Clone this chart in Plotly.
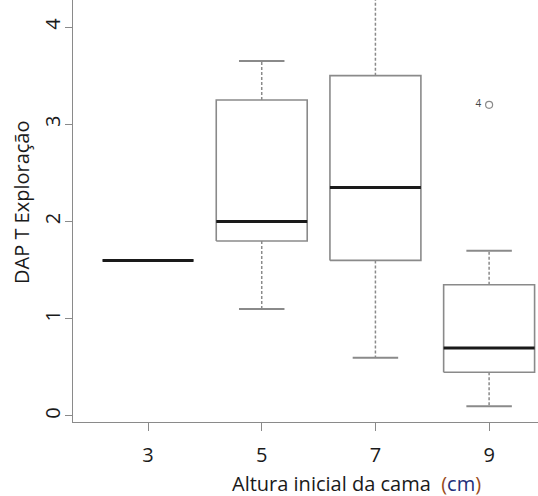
import plotly.graph_objects as go

# ---- data ----
categories = ["3", "5", "7", "9"]
lower_whisker = [1.6, 1.1, 0.6, 0.1]
q1 = [1.6, 1.8, 1.6, 0.45]
median = [1.6, 2.0, 2.35, 0.7]
q3 = [1.6, 3.25, 3.5, 1.35]
upper_whisker = [1.6, 3.65, 4.35, 1.7]
outlier_category = ["9"]
outlier_value = [3.2]
outlier_label = ["4 "]
y_ticks = [0, 1, 2, 3, 4]

pos = {c: i + 1 for i, c in enumerate(categories)}
half_box = 0.4
half_cap = 0.2
gray = "#8a8a8a"

box_x, box_y = [], []
wh_x, wh_y = [], []
cap_x, cap_y = [], []
med_x, med_y = [], []
for i, c in enumerate(categories):
    p = pos[c]
    box_x += [p - half_box, p + half_box, p + half_box, p - half_box, p - half_box, None]
    box_y += [q1[i], q1[i], q3[i], q3[i], q1[i], None]
    if upper_whisker[i] > q3[i]:
        wh_x += [p, p, None]
        wh_y += [q3[i], upper_whisker[i], None]
        cap_x += [p - half_cap, p + half_cap, None]
        cap_y += [upper_whisker[i], upper_whisker[i], None]
    if lower_whisker[i] < q1[i]:
        wh_x += [p, p, None]
        wh_y += [q1[i], lower_whisker[i], None]
        cap_x += [p - half_cap, p + half_cap, None]
        cap_y += [lower_whisker[i], lower_whisker[i], None]
    med_x += [p - half_box, p + half_box, None]
    med_y += [median[i], median[i], None]

fig = go.Figure()
fig.add_trace(go.Scatter(x=wh_x, y=wh_y, mode="lines",
                         line=dict(color=gray, width=1.5, dash="3px,2px"),
                         hoverinfo="skip", showlegend=False))
fig.add_trace(go.Scatter(x=cap_x, y=cap_y, mode="lines",
                         line=dict(color=gray, width=2),
                         hoverinfo="skip", showlegend=False))
fig.add_trace(go.Scatter(x=box_x, y=box_y, mode="lines",
                         line=dict(color=gray, width=1.6),
                         hoverinfo="skip", showlegend=False))
fig.add_trace(go.Scatter(x=med_x, y=med_y, mode="lines",
                         line=dict(color="#1a1a1a", width=3),
                         hoverinfo="skip", showlegend=False))
fig.add_trace(go.Scatter(x=[pos[c] for c in outlier_category], y=outlier_value,
                         mode="markers+text", text=outlier_label,
                         textposition="middle left",
                         textfont=dict(family="Open Sans", size=10, color="#444444"),
                         marker=dict(symbol="circle-open", size=7,
                                     color="#8a8a8a", line=dict(width=1.2)),
                         hoverinfo="skip", showlegend=False))

font_family = "Open Sans, sans-serif"
fig.update_layout(
    width=538, height=496,
    margin=dict(l=73, r=0, t=0, b=74, autoexpand=False),
    paper_bgcolor="white", plot_bgcolor="white",
    font=dict(family=font_family, size=20, color="#1a1a1a"),
    xaxis=dict(range=[0.34, 4.43], tickvals=[pos[c] for c in categories],
               ticktext=categories, showline=True, linecolor=gray, linewidth=1.3,
               ticks="outside", ticklen=8, tickcolor=gray, tickwidth=1.3,
               showgrid=False, zeroline=False, ticklabelstandoff=7,
               automargin=False),
    yaxis=dict(range=[-0.062, 4.278], tickvals=y_ticks,
               ticktext=[str(v) for v in y_ticks], tickangle=-90,
               showline=True, linecolor=gray, linewidth=1.3,
               ticks="outside", ticklen=7, tickcolor=gray, tickwidth=1.3,
               showgrid=False, zeroline=False, ticklabelstandoff=-3,
               automargin=False),
    annotations=[
        dict(text="Altura inicial da cama  <span style='color:#9a4a1a'>(</span>"
                  "<span style='color:#22307a'>cm</span>"
                  "<span style='color:#9a4a1a'>)</span>",
             xref="paper", yref="paper", x=(356 - 73) / 465, y=-(483 - 422) / 422,
             xanchor="center", yanchor="middle", showarrow=False,
             font=dict(family=font_family, size=20, color="#1a1a1a")),
        dict(text="DAP T Exploração", xref="paper", yref="paper",
             x=-(73 - 22) / 465, y=(422 - 202) / 422, textangle=-90,
             xanchor="center", yanchor="middle", showarrow=False,
             font=dict(family=font_family, size=20, color="#1a1a1a")),
    ],
)

fig.write_html("out.html", config={"displayModeBar": False},
               post_script="document.body.style.margin='0px';"
                           "document.body.style.overflow='hidden';")
